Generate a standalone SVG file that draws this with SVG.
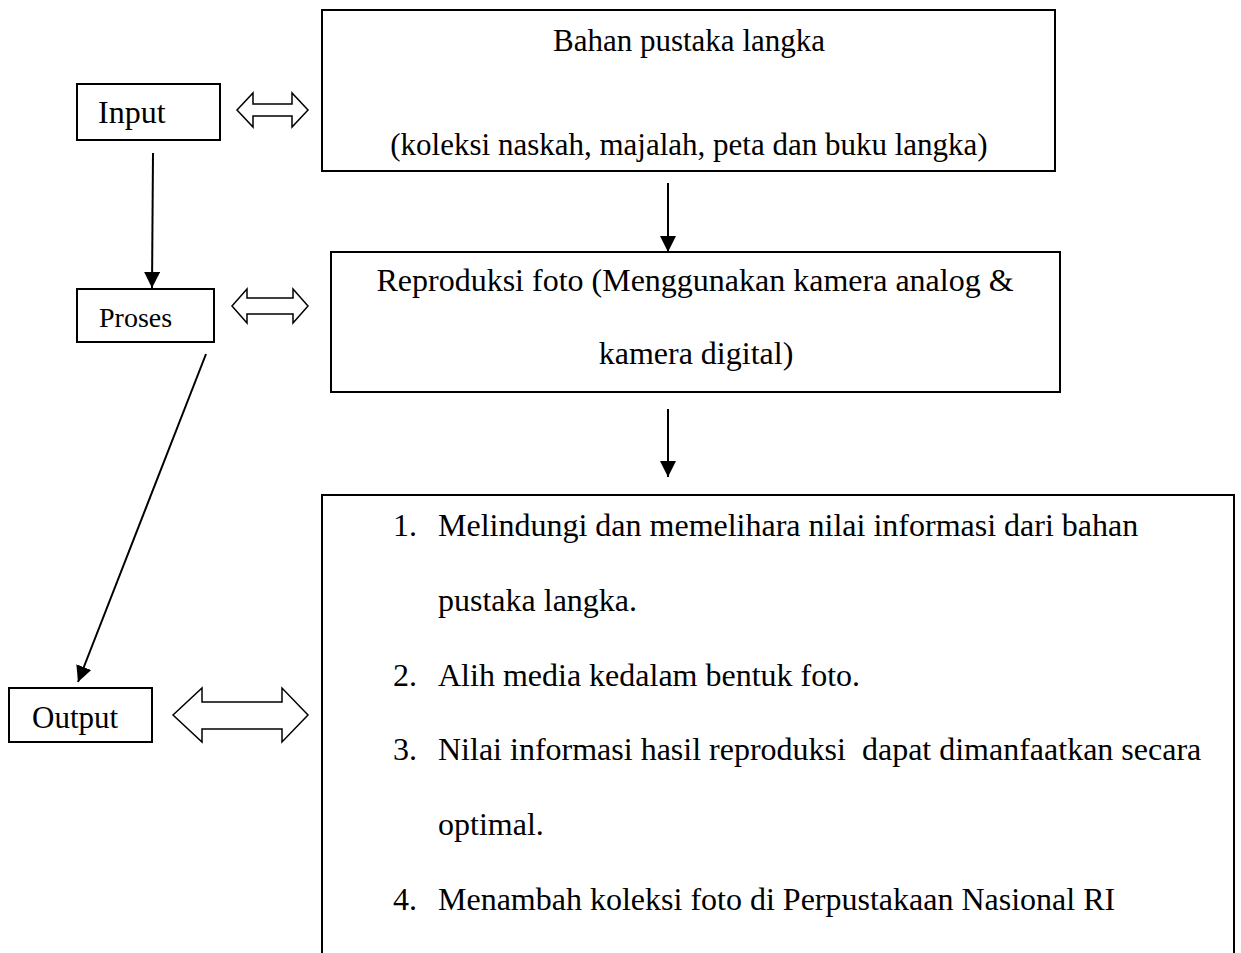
<svg xmlns="http://www.w3.org/2000/svg" width="1241" height="953" viewBox="0 0 1241 953">
<defs>
<style>
.box{fill:#fff;stroke:#000;stroke-width:2}
.t{font-family:"Liberation Serif","Times New Roman",serif;font-size:32px;fill:#000}
.s31{font-size:31px}
.s28{font-size:28px}
.c{text-anchor:middle}
.ln{stroke:#000;stroke-width:2;fill:none}
.dbl{fill:#fff;stroke:#000;stroke-width:1.5;stroke-linejoin:miter}
</style>
<marker id="ah" markerUnits="userSpaceOnUse" markerWidth="16" markerHeight="16" viewBox="0 0 16 16" refX="16" refY="8" orient="auto">
<path d="M0,0 L16,8 L0,16 Z" fill="#000"/>
</marker>
</defs>
<rect width="1241" height="953" fill="#fff"/>

<g id="input">
<rect class="box" x="77" y="84" width="143" height="56"/>
<text class="t" x="98" y="123">Input</text>
</g>
<g id="proses">
<rect class="box" x="77" y="289" width="137" height="53"/>
<text class="t s28" x="99" y="327">Proses</text>
</g>
<g id="output">
<rect class="box" x="9" y="688" width="143" height="54"/>
<text class="t s31" x="32" y="728">Output</text>
</g>
<g id="bahan">
<rect class="box" x="322" y="10" width="733" height="161"/>
<text class="t s31 c" x="689" y="51">Bahan pustaka langka</text>
<text class="t s31 c" x="689" y="155">(koleksi naskah, majalah, peta dan buku langka)</text>
</g>
<g id="reproduksi">
<rect class="box" x="331" y="252" width="729" height="140"/>
<text class="t c" x="695" y="291">Reproduksi foto (Menggunakan kamera analog &amp;</text>
<text class="t c" x="696" y="364">kamera digital)</text>
</g>
<g id="hasil">
<path class="box" d="M322,960 V495 H1234 V960"/>
<text class="t" x="393" y="536">1.</text>
<text class="t" x="438" y="536">Melindungi dan memelihara nilai informasi dari bahan</text>
<text class="t" x="438" y="611">pustaka langka.</text>
<text class="t" x="393" y="686">2.</text>
<text class="t" x="438" y="686">Alih media kedalam bentuk foto.</text>
<text class="t" x="393" y="760">3.</text>
<text class="t" x="438" y="760" xml:space="preserve">Nilai informasi hasil reproduksi  dapat dimanfaatkan secara</text>
<text class="t" x="438" y="835">optimal.</text>
<text class="t" x="393" y="910">4.</text>
<text class="t" x="438" y="910">Menambah koleksi foto di Perpustakaan Nasional RI</text>
</g>

<g id="connectors">
<line class="ln" x1="153" y1="153" x2="152" y2="288" marker-end="url(#ah)"/>
<line class="ln" x1="206" y1="354" x2="78" y2="682" marker-end="url(#ah)"/>
<line class="ln" x1="668" y1="183" x2="668" y2="252" marker-end="url(#ah)"/>
<line class="ln" x1="668" y1="409" x2="668" y2="477" marker-end="url(#ah)"/>
<path class="dbl" d="M237,110 L253,93 V104 H292 V93 L308,110 L292,127 V116 H253 V127 Z"/>
<path class="dbl" d="M232,306 L247,289 V298 H293 V289 L308,306 L293,323 V314 H247 V323 Z"/>
<path class="dbl" d="M173,715 L202,688 V702 H282 V688 L308,715 L282,742 V729 H202 V742 Z"/>
</g>
</svg>
